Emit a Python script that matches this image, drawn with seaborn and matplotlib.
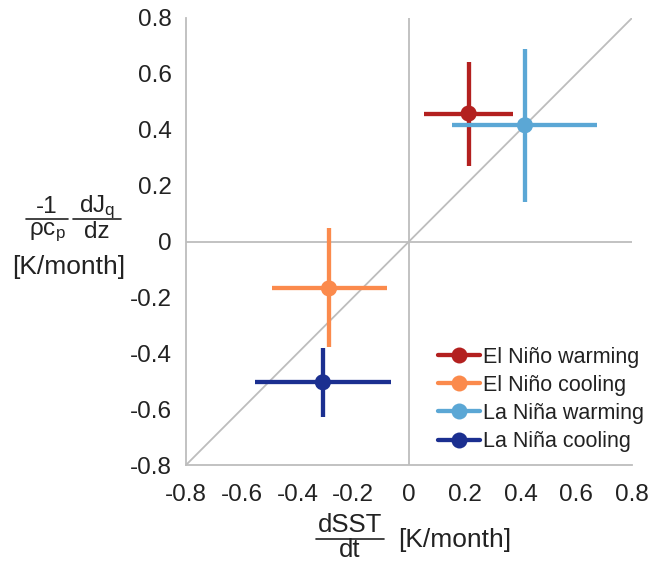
import matplotlib
matplotlib.use("Agg")
import matplotlib.pyplot as plt
import seaborn as sns
import pandas as pd
from matplotlib.lines import Line2D

# Data
labels = ["El Niño warming", "El Niño cooling", "La Niña warming", "La Niña cooling"]
x_center = [0.214, -0.287, 0.416, -0.309]
y_center = [0.458, -0.168, 0.416, -0.504]
x_low = [0.054, -0.490, 0.153, -0.554]
x_high = [0.372, -0.079, 0.676, -0.065]
y_low = [0.270, -0.376, 0.141, -0.627]
y_high = [0.643, 0.047, 0.690, -0.381]
colors = ["#b3201f", "#fb8a4c", "#5ba7d5", "#1b2f90"]
ticks = [-0.8, -0.6, -0.4, -0.2, 0, 0.2, 0.4, 0.6, 0.8]
tick_labels = ["-0.8", "-0.6", "-0.4", "-0.2", "0", "0.2", "0.4", "0.6", "0.8"]

sns.set_style("white")
plt.rcParams["font.family"] = ["Liberation Sans", "DejaVu Sans"]
plt.rcParams["mathtext.fontset"] = "custom"
plt.rcParams["mathtext.rm"] = "Liberation Sans"
plt.rcParams["mathtext.it"] = "Liberation Sans"
plt.rcParams["mathtext.bf"] = "Liberation Sans"

df = pd.DataFrame({"label": labels, "x": x_center, "y": y_center})

W, H = 653, 563
fig = plt.figure(figsize=(W / 100, H / 100), dpi=100)
ax = fig.add_axes([186 / W, 1 - 465 / H, (632 - 186) / W, (465 - 18) / H])

grey = "#bdbdbd"
txt = "#222222"
ax.axhline(0, color=grey, lw=1.3, zorder=1)
ax.axvline(0, color=grey, lw=1.3, zorder=1)
ax.plot([-0.8, 0.8], [-0.8, 0.8], color=grey, lw=1.3, zorder=1)

for i, lab in enumerate(labels):
    xe = [[x_center[i] - x_low[i]], [x_high[i] - x_center[i]]]
    ye = [[y_center[i] - y_low[i]], [y_high[i] - y_center[i]]]
    ax.errorbar(x_center[i], y_center[i], xerr=xe, yerr=ye, fmt="none",
                ecolor=colors[i], elinewidth=3.1, capsize=0, zorder=3)

sns.scatterplot(data=df, x="x", y="y", hue="label", palette=colors,
                hue_order=labels, s=135, edgecolor="none", ax=ax, zorder=4,
                legend=False)

handles = [Line2D([0], [0], color=c, lw=3.1, marker="o", markersize=11.5,
                  markeredgewidth=0) for c in colors]
leg = fig.legend(handles, labels, loc="upper left",
                 bbox_to_anchor=(427 / W, 1 - 336 / H),
                 bbox_transform=fig.transFigure, borderpad=0,
                 frameon=False, fontsize=15.5, handlelength=1.95,
                 handletextpad=0.15, labelspacing=0.33)
for t in leg.get_texts():
    t.set_color(txt)

ax.set_xlim(-0.8, 0.8)
ax.set_ylim(-0.8, 0.8)
ax.set_xticks(ticks)
ax.set_xticklabels(tick_labels)
ax.set_yticks(ticks)
ax.set_yticklabels(tick_labels)
ax.tick_params(axis="both", direction="out", length=3.5, width=1, color=grey,
               labelsize=17.5, labelcolor=txt)
ax.tick_params(axis="x", pad=10)
ax.tick_params(axis="y", pad=6.5)
for s in ["top", "right"]:
    ax.spines[s].set_visible(False)
for s in ["left", "bottom"]:
    ax.spines[s].set_color(grey)
    ax.spines[s].set_linewidth(1.3)
ax.set_xlabel("")
ax.set_ylabel("")


def px(x, y):
    return x / W, 1 - y / H


def frac(cx, num, den, y_num, y_bar, y_den, half, size):
    fig.text(*px(cx, y_num), num, ha="center", va="center", fontsize=size, color=txt)
    fig.text(*px(cx, y_den), den, ha="center", va="center", fontsize=size, color=txt)
    x0, yb = px(cx - half, y_bar)
    x1, _ = px(cx + half, y_bar)
    fig.add_artist(Line2D([x0, x1], [yb, yb], transform=fig.transFigure,
                          color=txt, lw=1.2))


# x label
frac(350, "dSST", "dt", 525, 539, 550, 34, 18.5)
fig.text(*px(398, 540), "[K/month]", ha="left", va="center", fontsize=19, color=txt)

# y label
frac(47, "-1", r"$\rho$c$_{\mathrm{p}}$", 207, 219, 232, 21, 17.5)
frac(97, r"dJ$_{\mathrm{q}}$", "dz", 207, 219, 232, 24, 17.5)
fig.text(*px(12, 267), "[K/month]", ha="left", va="center", fontsize=19, color=txt)

fig.savefig("out.png", dpi=100)
